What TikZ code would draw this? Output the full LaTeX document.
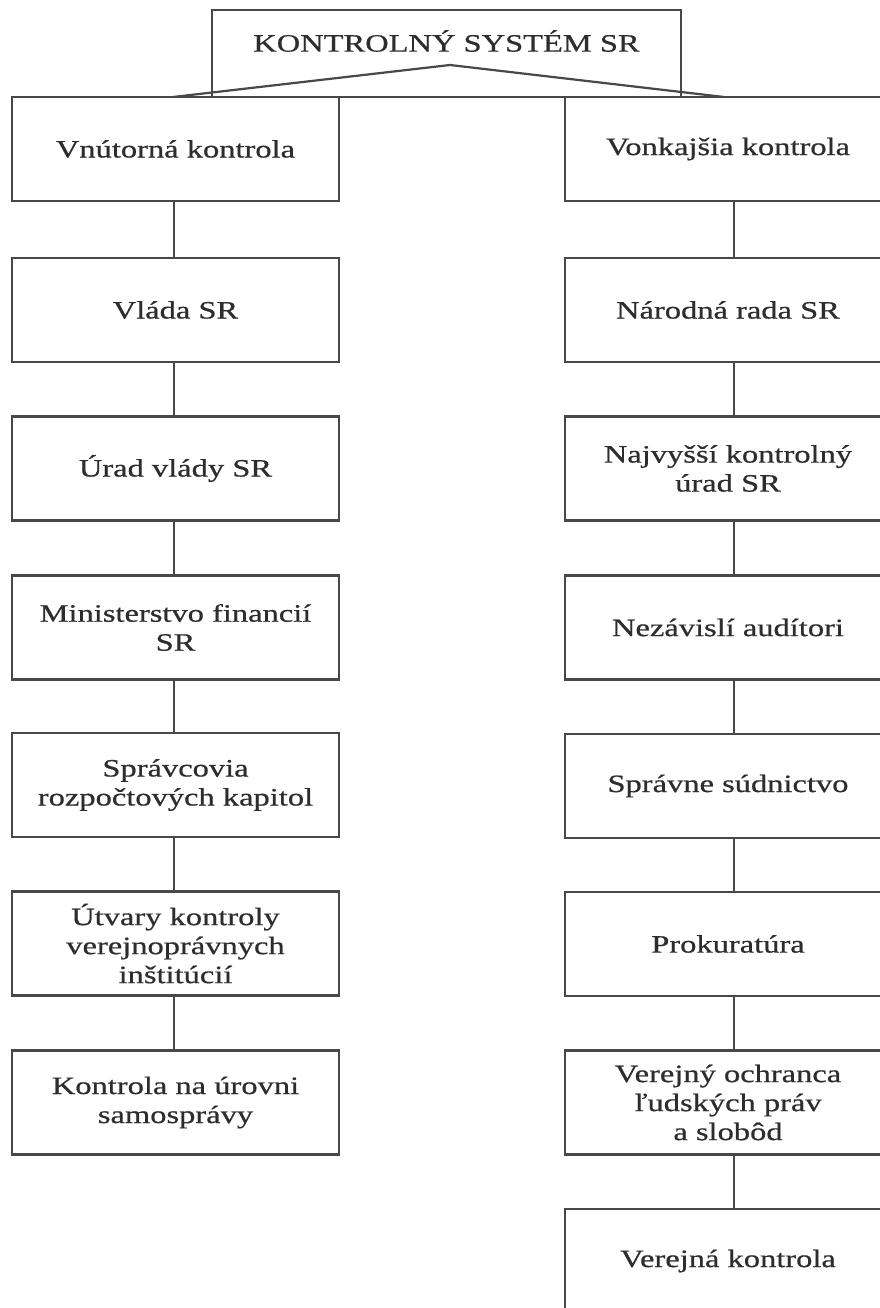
\documentclass[tikz,border=0pt]{standalone}
\usepackage{fontspec}
\setmainfont{Liberation Serif}[FakeStretch=1.3,FakeBold=0.6]
\definecolor{linec}{RGB}{72,72,72}
\definecolor{textc}{RGB}{45,45,45}
\begin{document}
\begin{tikzpicture}[x=1pt,y=-1pt,
  box/.style={draw=linec, line width=2.2pt, rectangle, minimum height=104pt, align=center, text=textc, font=\fontsize{25}{29}\selectfont, inner sep=2pt},
  lbox/.style={box, minimum width=327pt},
  rbox/.style={box, minimum width=326pt},
  conn/.style={draw=linec, line width=2.2pt},
  ttl/.style={text=textc, font=\fontsize{25}{29}\selectfont, inner sep=0pt}]
\useasboundingbox (0,0) rectangle (880,1308);
\clip (0,0) rectangle (880,1308);
\fill[white] (0,0) rectangle (880,1308);
% top box
\node[draw=linec, line width=2.2pt, rectangle, minimum width=469pt, minimum height=87pt, inner sep=0pt] (top) at (446.5,53.5) {};
\node[ttl] (toptext) at (446.5,41) {KONTROLNÝ SYSTÉM SR};
\coordinate (apex) at (450,65);
\coordinate (lend) at (173,97);
\coordinate (rend) at (724,97);
% left column
\node[lbox] (l1) at (175.5,149) {Vnútorná kontrola};
\node[lbox] (l2) at (175.5,310) {Vláda SR};
\node[lbox] (l3) at (175.5,468.5) {Úrad vlády SR};
\node[lbox] (l4) at (175.5,627.5) {Ministerstvo financií\\SR};
\node[lbox] (l5) at (175.5,785) {Správcovia\\rozpočtových kapitol};
\node[lbox] (l6) at (175.5,943.5) {Útvary kontroly\\verejnoprávnych\\inštitúcií};
\node[lbox] (l7) at (175.5,1102.5) {Kontrola na úrovni\\samosprávy};
% right column
\node[rbox] (r1) at (728,149) {Vonkajšia kontrola};
\node[rbox] (r2) at (728,310) {Národná rada SR};
\node[rbox] (r3) at (728,468.5) {Najvyšší kontrolný\\úrad SR};
\node[rbox] (r4) at (728,627.5) {Nezávislí audítori};
\node[rbox] (r5) at (728,786) {Správne súdnictvo};
\node[rbox] (r6) at (728,944) {Prokuratúra};
\node[rbox] (r7) at (728,1102.5) {Verejný ochranca\\ľudských práv\\a slobôd};
\node[rbox] (r8) at (728,1261) {Verejná kontrola};
% connectors
\draw[conn] (lend) -- (apex) -- (rend);
\foreach \a/\b in {l1/l2,l2/l3,l3/l4,l4/l5,l5/l6,l6/l7}
  \draw[conn] ([xshift=-1.5pt]\a.south) -- ([xshift=-1.5pt]\b.north);
\foreach \a/\b in {r1/r2,r2/r3,r3/r4,r4/r5,r5/r6,r6/r7,r7/r8}
  \draw[conn] ([xshift=6pt]\a.south) -- ([xshift=6pt]\b.north);
\end{tikzpicture}
\end{document}
